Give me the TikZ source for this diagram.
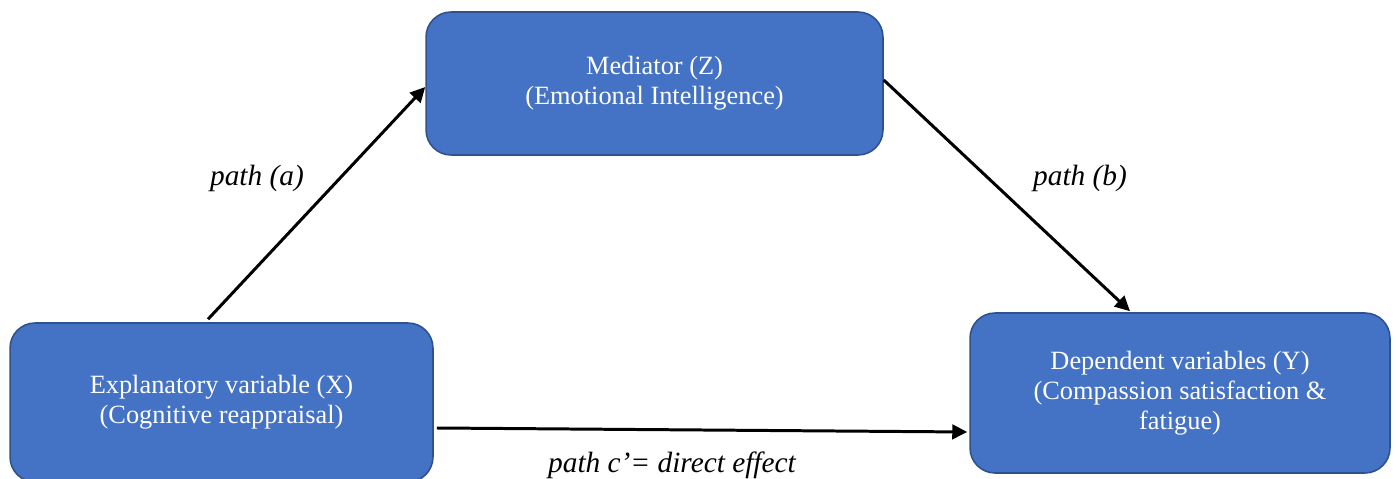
\documentclass[tikz,border=0pt]{standalone}
\usepackage{fontspec}
\setmainfont{Liberation Serif}
\usetikzlibrary{arrows.meta}
\definecolor{boxfill}{HTML}{4472C4}
\definecolor{boxline}{HTML}{2F528F}

\begin{document}
\begin{tikzpicture}[x=0.02cm, y=-0.02cm,
  varbox/.style={draw=boxline, line width=0.9pt, fill=boxfill, rounded corners=0.5cm,
    text=white, align=center, inner sep=0pt,
    font=\fontsize{15}{17.2}\selectfont},
  pathlabel/.style={font=\fontsize{16.7}{19}\selectfont\itshape},
  effect/.style={line width=1.7pt, -{Triangle[length=0.3cm,width=0.29cm]}}]
\useasboundingbox (0,0) rectangle (1398,479);

% the three variables
\node[varbox, minimum width=9.14cm, minimum height=2.86cm] (med) at (654.5, 83.5)
  {Mediator (Z)\\(Emotional Intelligence)};
\node[varbox, minimum width=8.46cm, minimum height=3.18cm] (exp) at (221.5, 402.5)
  {Explanatory variable (X)\\(Cognitive reappraisal)};
\node[varbox, minimum width=8.4cm, minimum height=3.2cm] (dep) at (1180, 393)
  {Dependent variables (Y)\\(Compassion satisfaction \&\\fatigue)};

% paths
\draw[effect] ([xshift=-0.27cm, yshift=0.06cm]exp.north) -- ([yshift=-0.07cm]med.west);
\draw[effect] ([yshift=0.07cm]med.east) -- ([xshift=-1cm, yshift=0.02cm]dep.north);
\draw[effect] ([xshift=0.06cm, yshift=-0.51cm]exp.east) -- ([xshift=-0.04cm, yshift=-0.78cm]dep.west);

\node[pathlabel] (la) at (257, 178) {path (a)};
\node[pathlabel] (lb) at (1080, 178) {path (b)};
\node[pathlabel] (lc) at (672, 465) {path c’= direct effect};

\end{tikzpicture}
\end{document}
